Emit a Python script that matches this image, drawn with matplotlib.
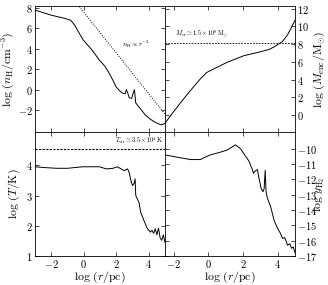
import numpy as np
import matplotlib
matplotlib.use("Agg")
import matplotlib.pyplot as plt
from matplotlib.ticker import FuncFormatter, MultipleLocator

plt.rcParams['mathtext.fontset'] = 'cm'
plt.rcParams['font.family'] = ['DejaVu Serif']

# ---- data ----
nh_x = [-3.0, -2.0, -1.2, -0.8, -0.55, -0.3, -0.05, 0.5, 0.96, 1.3, 1.57, 1.8, 2.0, 2.2, 2.4,
        2.55, 2.62, 2.7, 2.8, 2.95, 3.05, 3.12, 3.2, 3.4, 3.6, 3.8, 4.1, 4.4, 4.6, 4.8, 5.0]
nh_y = [7.8, 7.3, 7.0, 6.8, 6.3, 5.6, 4.9, 3.9, 2.9, 2.3, 1.6, 0.9, 0.25, -0.1, -0.35,
        -0.4, 0.0, -0.3, -0.8, -0.85, -0.3, 0.0, -1.3, -1.7, -2.1, -2.5, -2.9, -3.2, -3.35, -3.45, -3.3]
slope_x = [-3.0, 5.0]
slope_y = [7.6 + 2 * 3.0, 7.6 - 2 * 5.0]

m_x = [-2.5, -2.0, -1.5, -1.0, -0.5, -0.1, 0.2, 1.08, 2.05, 3.02, 3.5, 3.8, 4.28, 4.57, 4.8, 5.0]
m_y = [-0.9, 0.4, 1.65, 2.85, 4.0, 4.8, 5.1, 5.95, 6.7, 7.15, 7.4, 7.7, 8.3, 9.05, 9.9, 10.7]
log_mcr = np.log10(1.5e8)

t_x = [-3.0, -2.3, -1.66, -1.0, -0.07, 0.5, 0.96, 1.4, 1.8, 2.07, 2.3, 2.5, 2.7, 2.8, 2.9, 3.0,
       3.1, 3.16, 3.2, 3.4, 3.5, 3.7, 3.9, 4.1, 4.2, 4.3, 4.4, 4.5, 4.6, 4.7, 4.8, 4.9, 5.0]
t_y = [3.95, 3.92, 3.9, 3.9, 3.95, 3.95, 3.95, 3.88, 3.9, 3.95, 3.88, 3.82, 3.88, 3.75, 3.5, 3.33,
       3.4, 3.55, 3.0, 2.77, 2.45, 2.18, 1.92, 1.79, 1.85, 1.75, 1.9, 1.7, 1.92, 1.6, 1.52, 1.7, 1.45]
log_tvir = np.log10(3.5e4)

y_x = [-2.5, -2.0, -1.63, -1.03, -0.47, 0.1, 0.6, 1.08, 1.57, 1.86, 2.1, 2.34, 2.54, 2.6, 2.7,
       2.83, 2.9, 3.05, 3.15, 3.22, 3.28, 3.33, 3.4, 3.6, 3.8, 4.0, 4.15, 4.28, 4.4, 4.48, 4.57,
       4.7, 4.8, 4.9, 5.0]
y_y = [-10.4, -10.5, -10.58, -10.7, -10.7, -10.4, -10.25, -10.08, -9.74, -10.0, -10.4, -10.8,
       -11.35, -11.6, -11.45, -11.35, -11.8, -12.6, -12.8, -12.6, -11.4, -12.8, -13.2, -13.8,
       -14.7, -15.2, -15.5, -15.85, -15.8, -16.0, -16.3, -16.2, -16.5, -16.4, -16.8]

# ---- figure ----
W, H = 328, 285
fig = plt.figure(figsize=(W / 100, H / 100), dpi=100)

def px_axes(x0, y0, x1, y1):
    return fig.add_axes([x0 / W, 1 - y1 / H, (x1 - x0) / W, (y1 - y0) / H])

ax1 = px_axes(35, 6, 165, 132)
ax2 = px_axes(165, 6, 295, 132)
ax3 = px_axes(35, 132, 165, 256)
ax4 = px_axes(165, 132, 295, 256)

fmt = FuncFormatter(lambda v, p: r'$%g$' % v)
lw = 0.7
for ax in (ax1, ax2, ax3, ax4):
    ax.tick_params(direction='in', top=True, bottom=True, left=True, right=True,
                   labelsize=7.5, length=3, width=0.5, pad=1.5)
    ax.xaxis.set_major_locator(MultipleLocator(2))
    ax.xaxis.set_major_formatter(fmt)
    ax.yaxis.set_major_formatter(fmt)
    for s in ax.spines.values():
        s.set_linewidth(0.6)

LAB = 8.5

# top-left
ax1.plot(nh_x, nh_y, color='k', lw=lw)
ax1.plot(slope_x, slope_y, color='k', lw=0.7, ls=(0, (1, 1.5)))
ax1.set_xlim(-3, 5)
ax1.set_ylim(-4.15, 8.2)
ax1.set_yticks([-2, 0, 2, 4, 6, 8])
ax1.tick_params(labelbottom=False)
ax1.text(2.35, 4.4, r'$n_{\rm H}\propto r^{-2}$', fontsize=5, va='center')
ax1.set_ylabel(r'$\log\,(n_{\rm H}/{\rm cm^{-3}})$', fontsize=LAB, labelpad=0.5)

# top-right
ax2.plot(m_x, m_y, color='k', lw=lw)
ax2.axhline(log_mcr, color='k', lw=0.6, ls=(0, (2, 1.5)))
ax2.set_xlim(-2.5, 5)
ax2.set_ylim(-1.9, 12.3)
ax2.set_yticks([0, 2, 4, 6, 8, 10, 12])
ax2.tick_params(labelbottom=False, labelleft=False, labelright=True)
ax2.text(-1.9, log_mcr + 0.3, r'$M_{\rm cr}\simeq 1.5\times10^8\,{\rm M_{\odot}}$',
         fontsize=4.5, va='bottom')
ax2.yaxis.set_label_position('right')
ax2.set_ylabel(r'$\log\,(M_{\rm enc}/{\rm M_{\odot}})$', fontsize=LAB, labelpad=2)

# bottom-left
ax3.plot(t_x, t_y, color='k', lw=lw)
ax3.axhline(log_tvir, color='k', lw=0.8, ls=(0, (2, 1.2)))
ax3.set_xlim(-3, 5)
ax3.set_ylim(1, 5.1)
ax3.set_yticks([1, 2, 3, 4])
ax3.text(4.85, log_tvir + 0.08, r'$T_{\rm vir}\simeq 3.5\times10^4\,{\rm K}$',
         fontsize=4.5, ha='right', va='bottom')
ax3.set_ylabel(r'$\log\,(T/{\rm K})$', fontsize=LAB, labelpad=3)
ax3.set_xlabel(r'$\log\,(r/{\rm pc})$', fontsize=LAB, labelpad=0)

# bottom-right
ax4.plot(y_x, y_y, color='k', lw=lw)
ax4.set_xlim(-2.5, 5)
ax4.set_ylim(-17, -8.9)
ax4.set_yticks([-17, -16, -15, -14, -13, -12, -11, -10])
ax4.tick_params(labelleft=False, labelright=True)
ax4.yaxis.set_label_position('right')
ax4.set_ylabel(r'$\log\,y_{\rm H_2}$', fontsize=LAB, labelpad=-4)
ax4.set_xlabel(r'$\log\,(r/{\rm pc})$', fontsize=LAB, labelpad=0)

fig.savefig('out.png', dpi=100)
